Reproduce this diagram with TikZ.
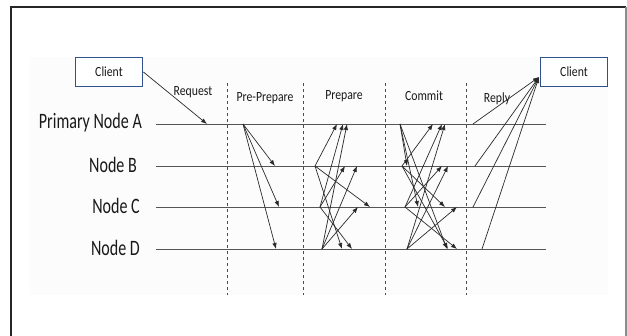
\documentclass[tikz,border=0pt]{standalone}
\usepackage{fontspec}
\setmainfont[FakeStretch=0.8]{Carlito}
\newfontfamily\bigfont[FakeStretch=0.73]{Carlito}
\newfontfamily\smallfont[FakeStretch=0.84]{Carlito}
\usetikzlibrary{arrows.meta}
\definecolor{boxblue}{HTML}{2F528F}
\definecolor{linegray}{HTML}{555555}
\definecolor{msggray}{HTML}{2A2A2A}
\tikzset{
  clientbox/.style={draw=boxblue,line width=1.8pt,fill=white,minimum width=67pt,minimum height=29pt,inner sep=0pt,font=\smallfont\fontsize{14}{16}\selectfont,text=black!90},
  nodelabel/.style={anchor=east,inner sep=0pt,font=\bigfont\fontsize{22}{26}\selectfont,text=black!90},
  phaselabel/.style={inner sep=0pt,font=\smallfont\fontsize{14}{16}\selectfont,text=black!90},
  timeline/.style={draw=linegray,line width=1pt},
  phasesep/.style={draw=black!70,line width=0.8pt,dash pattern=on 3pt off 3pt},
  msg/.style={draw=msggray,line width=0.7pt,-{Latex[length=6pt,width=4.5pt]}},
}
\begin{document}
\begin{tikzpicture}[x=1pt,y=-1pt]
\useasboundingbox (0,0) rectangle (627,335);
% page frame
\fill[black!1] (30,57) rectangle (608,295);
\draw[black!85,line width=2pt] (11,340) -- (11,7) -- (626,7);
\draw[black!45,line width=1.2pt] (626,7) -- (626,340);
% timelines
\foreach \n/\y in {A/124,B/166,C/207,D/249}{
  \coordinate (\n l) at (156,\y);
  \coordinate (\n r) at (546,\y);
  \draw[timeline] (\n l) -- (\n r);
}
\node[nodelabel] (labA) at (142,123) {Primary Node A};
\node[nodelabel] (labB) at (137,165) {Node B};
\node[nodelabel] (labC) at (140,206) {Node C};
\node[nodelabel] (labD) at (140,248) {Node D};
% phase separators
\foreach \x [count=\i] in {227,303,385,466}{
  \coordinate (sep\i t) at (\x,83);
  \coordinate (sep\i b) at (\x,295);
  \draw[phasesep] (sep\i t) -- (sep\i b);
}
% phase labels
\node[phaselabel] (preq) at (193,92) {Request};
\node[phaselabel] (ppre) at (265,98) {Pre-Prepare};
\node[phaselabel] (pprep) at (344,96) {Prepare};
\node[phaselabel] (pcom) at (424,96) {Commit};
\node[phaselabel] (prep) at (497,99) {Reply};
% clients
\node[clientbox] (lclient) at (109,72) {Client};
\node[clientbox] (rclient) at (574,72) {Client};
% request
\coordinate (reqtip) at (207,124);
\draw[msg] (lclient.east) -- (reqtip);
% messages: pre-prepare, prepare, commit
\foreach \sx/\sy/\tx/\ty [count=\i] in {
  243/124/275/166, 243/124/279/207, 243/124/276/249,
  315/166/337/124, 320/207/343/124, 322/249/347/124,
  320/207/345/166, 322/249/357/166,
  315/166/370/207, 322/249/358/207,
  315/166/342/249, 320/207/352/249,
  400/124/407/166, 400/124/418/207, 400/124/447/249,
  402/166/433/124, 405/207/442/124, 407/249/445/124,
  405/207/442/166, 407/249/448/166,
  402/166/445/207, 407/249/457/207,
  402/166/448/249, 405/207/457/249}{
  \coordinate (m\i s) at (\sx,\sy);
  \coordinate (m\i t) at (\tx,\ty);
  \draw[msg] (m\i s) -- (m\i t);
}
% reply
\coordinate (rtip) at (539,77);
\foreach \sx/\sy [count=\i] in {473/124,475/166,473/207,482/249}{
  \coordinate (r\i s) at (\sx,\sy);
  \draw[msg] (r\i s) -- (rtip);
}
\end{tikzpicture}
\end{document}
